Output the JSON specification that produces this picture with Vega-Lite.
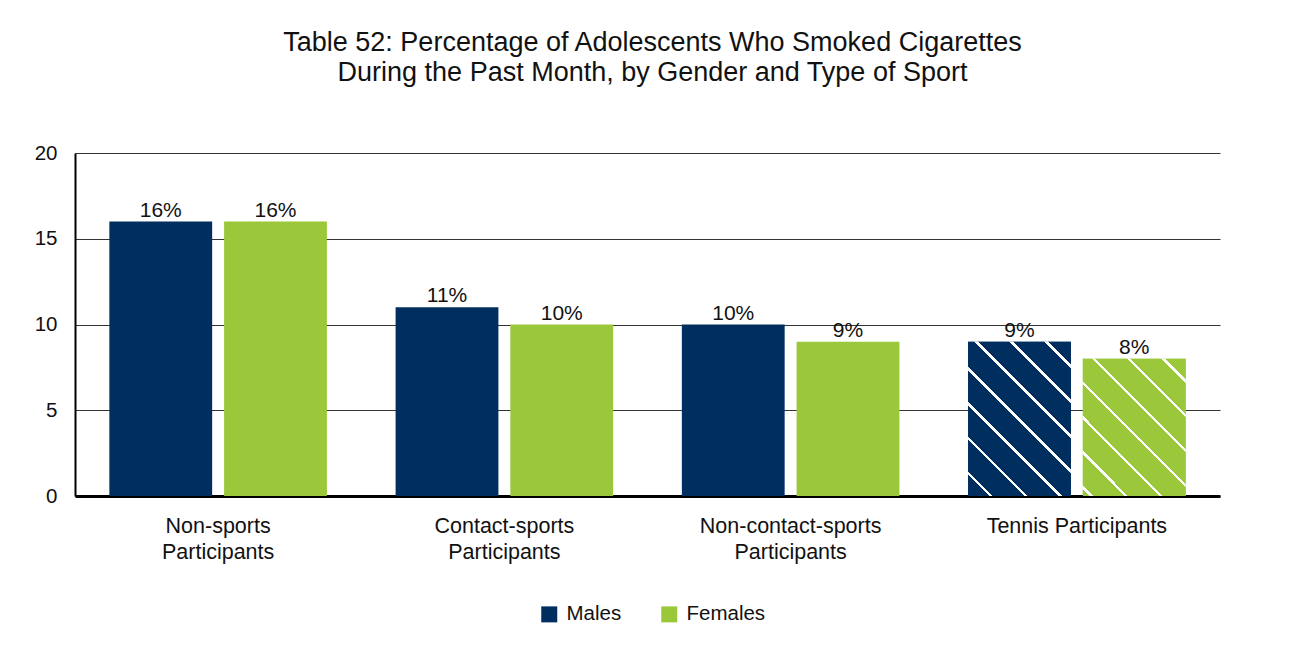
{
  "$schema": "https://vega.github.io/schema/vega-lite/v6.json",
  "width": 1145,
  "height": 343,
  "autosize": {"type": "none"},
  "padding": {"left": 75, "top": 153, "right": 73, "bottom": 150},
  "background": "white",
  "config": {"font": "Liberation Sans", "view": {"stroke": null}},
  "title": {
    "text": ["Table 52: Percentage of Adolescents Who Smoked Cigarettes", "During the Past Month, by Gender and Type of Sport"],
    "fontSize": 27, "fontWeight": "normal", "lineHeight": 30, "anchor": "middle", "offset": 56, "color": "#111", "dx": 5
  },
  "data": {"values": [
    {"sport": "Non-sports Participants", "gender": "Males", "pct": 16, "label": "16%"},
    {"sport": "Non-sports Participants", "gender": "Females", "pct": 16, "label": "16%"},
    {"sport": "Contact-sports Participants", "gender": "Males", "pct": 11, "label": "11%"},
    {"sport": "Contact-sports Participants", "gender": "Females", "pct": 10, "label": "10%"},
    {"sport": "Non-contact-sports Participants", "gender": "Males", "pct": 10, "label": "10%"},
    {"sport": "Non-contact-sports Participants", "gender": "Females", "pct": 9, "label": "9%"},
    {"sport": "Tennis Participants", "gender": "Males", "pct": 9, "label": "9%"},
    {"sport": "Tennis Participants", "gender": "Females", "pct": 8, "label": "8%"}
  ]},
  "encoding": {
    "x": {
      "field": "sport", "type": "nominal",
      "sort": ["Non-sports Participants", "Contact-sports Participants", "Non-contact-sports Participants", "Tennis Participants"],
      "scale": {"paddingInner": 0.24, "paddingOuter": 0.12},
      "title": null,
      "axis": {
        "labelAngle": 0, "labelFontSize": 21.5, "labelColor": "#111", "labelPadding": 19, "labelLineHeight": 26, "labelLimit": 0,
        "ticks": false, "domainColor": "#000", "domainWidth": 3,
        "labelExpr": "datum.value == 'Tennis Participants' ? datum.value : split(datum.value, ' ')"
      }
    },
    "xOffset": {"field": "gender", "type": "nominal", "sort": ["Males", "Females"], "scale": {"paddingInner": 0.104, "paddingOuter": 0}},
    "y": {
      "field": "pct", "type": "quantitative",
      "scale": {"domain": [0, 20]},
      "title": null,
      "axis": {
        "values": [0, 5, 10, 15, 20], "labelFontSize": 20.5, "labelColor": "#111", "labelPadding": 18,
        "ticks": false, "domainColor": "#000", "domainWidth": 2, "gridColor": "#333", "gridWidth": 1
      }
    }
  },
  "layer": [
    {
      "mark": {"type": "bar"},
      "encoding": {
        "color": {
          "field": "gender", "type": "nominal",
          "scale": {"domain": ["Males", "Females"], "range": ["#002F5F", "#9BC83B"]},
          "legend": {
            "orient": "none", "legendX": 464, "legendY": 451, "direction": "horizontal", "title": null, "symbolType": "square",
            "symbolSize": 256, "symbolStrokeWidth": 0, "labelFontSize": 20.5, "labelColor": "#111",
            "columnPadding": 37, "labelOffset": 7
          }
        }
      }
    },
    {
      "transform": [{"filter": "datum.sport == 'Tennis Participants' && datum.gender == 'Males'"}],
      "mark": {
        "type": "bar",
        "fill": {
          "gradient": "linear", "x1": 0, "y1": 1, "x2": 0.769, "y2": -0.154,
          "stops": [
            {"offset": 0, "color": "#002F5F"},
            {"offset": 0.082, "color": "#002F5F"}, {"offset": 0.082, "color": "#ffffff"}, {"offset": 0.0964, "color": "#ffffff"}, {"offset": 0.0964, "color": "#002F5F"},
            {"offset": 0.2177, "color": "#002F5F"}, {"offset": 0.2177, "color": "#ffffff"}, {"offset": 0.2321, "color": "#ffffff"}, {"offset": 0.2321, "color": "#002F5F"},
            {"offset": 0.3534, "color": "#002F5F"}, {"offset": 0.3534, "color": "#ffffff"}, {"offset": 0.3678, "color": "#ffffff"}, {"offset": 0.3678, "color": "#002F5F"},
            {"offset": 0.4891, "color": "#002F5F"}, {"offset": 0.4891, "color": "#ffffff"}, {"offset": 0.5035, "color": "#ffffff"}, {"offset": 0.5035, "color": "#002F5F"},
            {"offset": 0.6248, "color": "#002F5F"}, {"offset": 0.6248, "color": "#ffffff"}, {"offset": 0.6392, "color": "#ffffff"}, {"offset": 0.6392, "color": "#002F5F"},
            {"offset": 0.7605, "color": "#002F5F"}, {"offset": 0.7605, "color": "#ffffff"}, {"offset": 0.7749, "color": "#ffffff"}, {"offset": 0.7749, "color": "#002F5F"},
            {"offset": 0.8962, "color": "#002F5F"}, {"offset": 0.8962, "color": "#ffffff"}, {"offset": 0.9106, "color": "#ffffff"}, {"offset": 0.9106, "color": "#002F5F"},
            {"offset": 1, "color": "#002F5F"}
          ]
        }
      }
    },
    {
      "transform": [{"filter": "datum.sport == 'Tennis Participants' && datum.gender == 'Females'"}],
      "mark": {
        "type": "bar",
        "fill": {
          "gradient": "linear", "x1": 0, "y1": 1, "x2": 0.8407, "y2": -0.12,
          "stops": [
            {"offset": 0, "color": "#9BC83B"},
            {"offset": 0.0273, "color": "#9BC83B"}, {"offset": 0.0273, "color": "#ffffff"}, {"offset": 0.0427, "color": "#ffffff"}, {"offset": 0.0427, "color": "#9BC83B"},
            {"offset": 0.1728, "color": "#9BC83B"}, {"offset": 0.1728, "color": "#ffffff"}, {"offset": 0.1882, "color": "#ffffff"}, {"offset": 0.1882, "color": "#9BC83B"},
            {"offset": 0.3183, "color": "#9BC83B"}, {"offset": 0.3183, "color": "#ffffff"}, {"offset": 0.3337, "color": "#ffffff"}, {"offset": 0.3337, "color": "#9BC83B"},
            {"offset": 0.4638, "color": "#9BC83B"}, {"offset": 0.4638, "color": "#ffffff"}, {"offset": 0.4792, "color": "#ffffff"}, {"offset": 0.4792, "color": "#9BC83B"},
            {"offset": 0.6093, "color": "#9BC83B"}, {"offset": 0.6093, "color": "#ffffff"}, {"offset": 0.6247, "color": "#ffffff"}, {"offset": 0.6247, "color": "#9BC83B"},
            {"offset": 0.7548, "color": "#9BC83B"}, {"offset": 0.7548, "color": "#ffffff"}, {"offset": 0.7702, "color": "#ffffff"}, {"offset": 0.7702, "color": "#9BC83B"},
            {"offset": 0.9003, "color": "#9BC83B"}, {"offset": 0.9003, "color": "#ffffff"}, {"offset": 0.9157, "color": "#ffffff"}, {"offset": 0.9157, "color": "#9BC83B"},
            {"offset": 1, "color": "#9BC83B"}
          ]
        }
      }
    },
    {
      "mark": {"type": "text", "baseline": "bottom", "dy": -1, "fontSize": 21, "color": "#111"},
      "encoding": {"text": {"field": "label", "type": "nominal"}}
    }
  ]
}
